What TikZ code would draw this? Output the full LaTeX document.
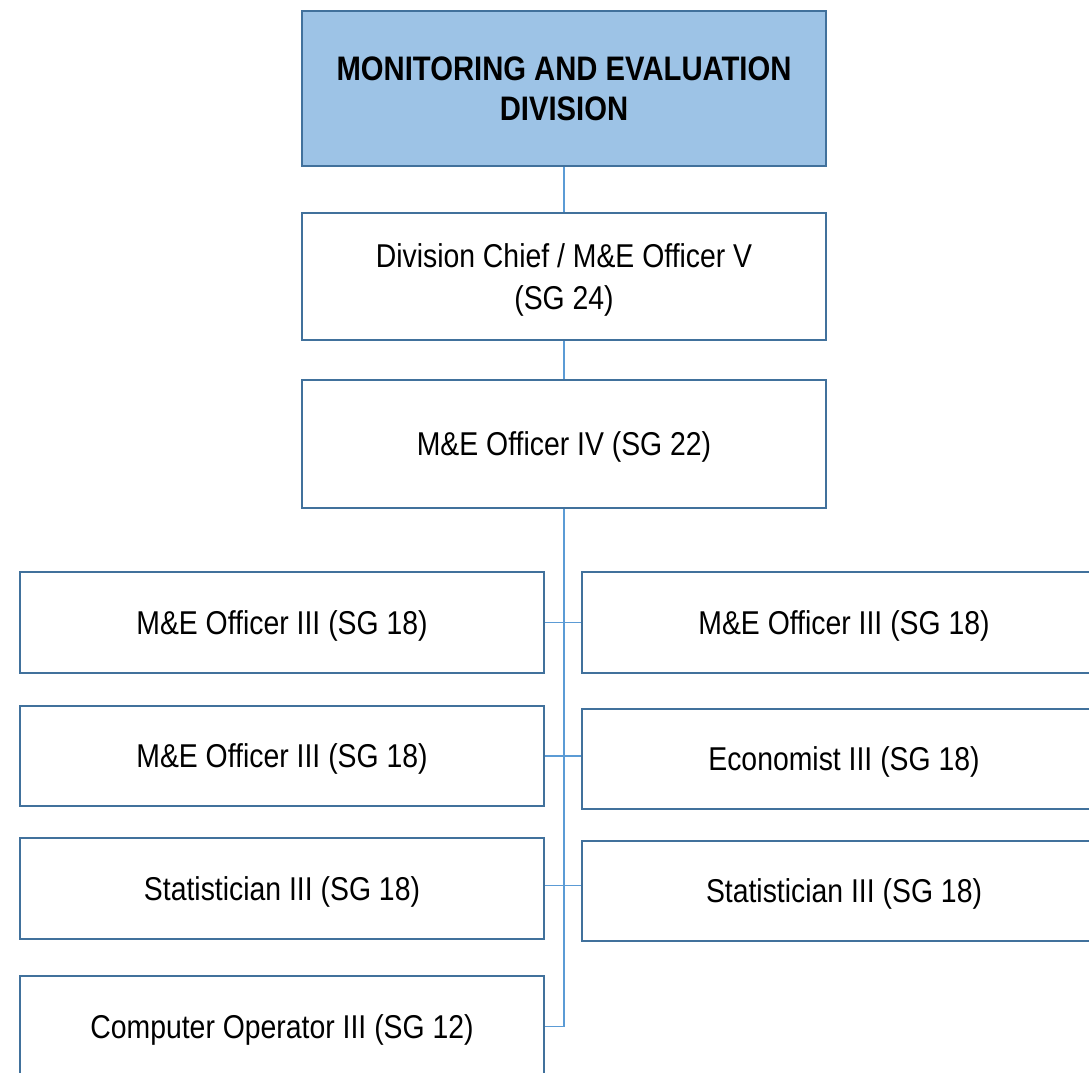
\documentclass[tikz,border=0pt]{standalone}
\usepackage{fontspec}
\setmainfont{Liberation Sans}[FakeStretch=0.86]
\usepackage{xcolor}
\usepackage{tikz}
\usetikzlibrary{positioning}
\usetikzlibrary{calc}
\definecolor{boxline}{HTML}{41719C}
\definecolor{headfill}{HTML}{9DC3E6}
\definecolor{linkline}{HTML}{5B9BD5}
\tikzset{
  postbox/.style={draw=boxline, line width=2.2pt, fill=white, minimum width=524pt,
    align=center, inner sep=0pt, text depth=0pt, font=\fontsize{33}{42}\selectfont},
  headbox/.style={postbox, fill=headfill, font=\fontsize{34}{40}\selectfont\bfseries},
  link/.style={draw=linkline, line width=1.4pt}
}
\begin{document}
\begin{tikzpicture}[x=1pt, y=-1pt]
  \useasboundingbox (0,0) rectangle (1089,1072);
  \clip (0,0) rectangle (1089,1072);
  % top of the chart
  \node[headbox, minimum height=155pt] (head) at (564,88.5) {MONITORING AND EVALUATION\\DIVISION};
  \node[postbox, minimum height=127pt] (chief) at (564,276.5) {Division Chief / M\&E Officer V\\(SG 24)};
  \node[postbox, minimum height=128pt] (officer) at (564,444) {M\&E Officer IV (SG 22)};
  % left column
  \node[postbox, minimum height=101pt] (left1) at (282,622.5) {M\&E Officer III (SG 18)};
  \node[postbox, minimum height=100pt] (left2) at (282,756) {M\&E Officer III (SG 18)};
  \node[postbox, minimum height=101pt] (left3) at (282,888.5) {Statistician III (SG 18)};
  \node[postbox, minimum height=101pt] (left4) at (282,1026.5) {Computer Operator III (SG 12)};
  % right column
  \node[postbox, minimum height=101pt] (right1) at (844,622.5) {M\&E Officer III (SG 18)};
  \node[postbox, minimum height=100pt] (right2) at (844,759) {Economist III (SG 18)};
  \node[postbox, minimum height=100pt] (right3) at (844,891) {Statistician III (SG 18)};
  % connectors
  \coordinate (spineend) at (officer.south |- left4.east);
  \draw[link] (head) -- (chief);
  \draw[link] (chief) -- (officer);
  \draw[link] (officer.south) -- (spineend);
  \draw[link] (left1.east) -- (left1.east -| right1.west);
  \draw[link] (left2.east) -- (left2.east -| right2.west);
  \draw[link] ($(left3.east)+(0,-3)$) -- ($(left3.east -| right3.west)+(0,-3)$);
  \draw[link] (left4.east) -- (spineend);
\end{tikzpicture}
\end{document}
